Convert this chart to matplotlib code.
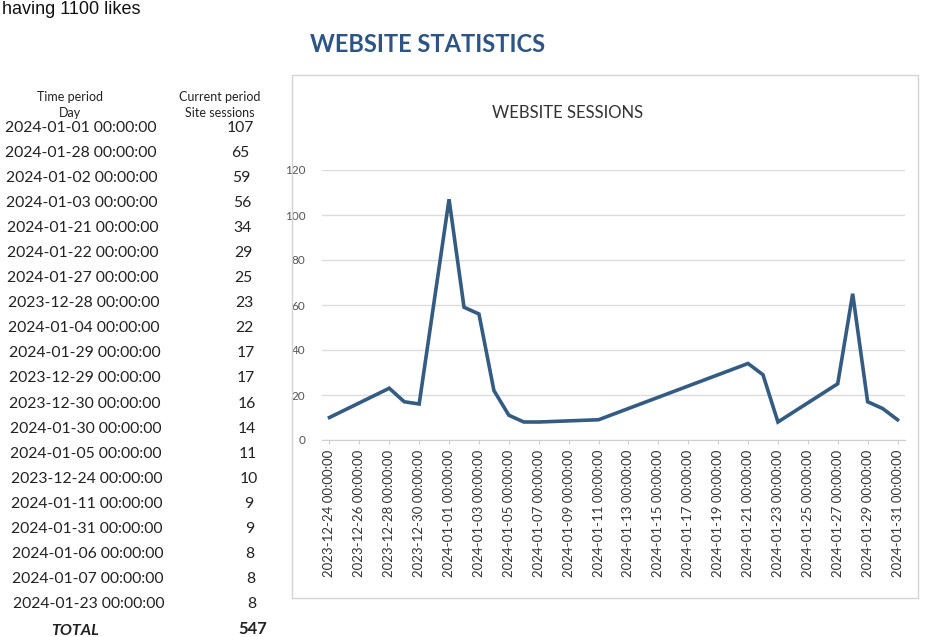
import matplotlib
matplotlib.use("Agg")
import matplotlib.pyplot as plt
from matplotlib.patches import Rectangle
import pandas as pd

# table rows as printed (sorted by sessions)
days = [
    "2024-01-01", "2024-01-28", "2024-01-02", "2024-01-03", "2024-01-21",
    "2024-01-22", "2024-01-27", "2023-12-28", "2024-01-04", "2024-01-29",
    "2023-12-29", "2023-12-30", "2024-01-30", "2024-01-05", "2023-12-24",
    "2024-01-11", "2024-01-31", "2024-01-06", "2024-01-07", "2024-01-23",
]
sessions = [107, 65, 59, 56, 34, 29, 25, 23, 22, 17, 17, 16, 14, 11, 10, 9, 9, 8, 8, 8]
y_ticks = [0, 20, 40, 60, 80, 100, 120]

page_title = "WEBSITE STATISTICS"
chart_title = "WEBSITE SESSIONS"
header_left = ["Time period", "Day"]
header_right = ["Current period", "Site sessions"]

FONT = ["Lato", "DejaVu Sans"]
LINE_COLOR = "#345b82"
TEXT = "#222222"

fig = plt.figure(figsize=(9.34, 6.37), dpi=100)
fig.patch.set_facecolor("white")

W, H = 934.0, 637.0


def fx(px):
    return px / W


def fy(py):
    return 1 - py / H


# caption line at the very top of the photo
fig.text(fx(2), fy(1), "having 1100 likes", fontsize=13, family="Liberation Sans",
         color="#111111", va="top", ha="left")

fig.text(fx(310), fy(45), page_title, fontsize=17, fontweight="bold", family=FONT,
         color="#2c5585", va="center", ha="left")

# table
for j, (l, r) in enumerate(zip(header_left, header_right)):
    y = 97 + j * 16
    fig.text(fx(70), fy(y), l, fontsize=9, family=FONT, ha="center", va="center", color=TEXT)
    fig.text(fx(220), fy(y), r, fontsize=9, family=FONT, ha="center", va="center", color=TEXT)

row_y0, row_step = 128, 25.05
for i, (d, s) in enumerate(zip(days, sessions)):
    y = row_y0 + i * row_step
    fig.text(fx(5 + i * 0.4), fy(y), f"{d} 00:00:00", fontsize=11.3, family=FONT,
             ha="left", va="center", color=TEXT)
    fig.text(fx(240 + i * 0.6), fy(y), str(s), fontsize=11.3, family=FONT,
             ha="center", va="center", color=TEXT)

total_y = row_y0 + len(days) * row_step
fig.text(fx(75), fy(total_y + 2), "TOTAL", fontsize=11.5, family=FONT, fontweight="bold",
         style="italic", ha="center", va="center", color=TEXT)
fig.text(fx(253), fy(total_y), str(sum(sessions)), fontsize=12, family=FONT, fontweight="bold",
         ha="center", va="center", color=TEXT)

# chart frame
fig.patches.append(Rectangle((fx(292), fy(598)), fx(918) - fx(292), fy(75) - fy(598),
                             transform=fig.transFigure, fill=False, edgecolor="#d4d4d4", lw=1))
fig.text(fx(568), fy(113), chart_title, fontsize=12, family=FONT, ha="center", va="center",
         color="#333333")

ax = fig.add_axes([fx(322), fy(440), fx(905) - fx(322), fy(170) - fy(440)])

df = pd.DataFrame({"day": pd.to_datetime(days), "sessions": sessions}).sort_values("day")
ax.plot(df["day"], df["sessions"], color=LINE_COLOR, lw=2.6, solid_joinstyle="miter")

start, end = pd.Timestamp("2023-12-24"), pd.Timestamp("2024-01-31")
ax.set_xlim(start - pd.Timedelta(days=0.5), end + pd.Timedelta(days=0.5))
ax.set_ylim(0, 120)
ax.set_yticks(y_ticks)
ax.grid(axis="y", color="#dcdcdc", lw=1)
ax.set_axisbelow(True)

ticks = pd.date_range(start, end, freq="2D")
ax.set_xticks(ticks)
ax.set_xticklabels([t.strftime("%Y-%m-%d 00:00:00") for t in ticks], rotation=90,
                   fontsize=9.5, family=FONT, color="#333333")
ax.tick_params(axis="x", length=3, color="#cfcfcf", pad=4)
ax.tick_params(axis="y", length=0, labelsize=8.5, labelcolor="#555555", pad=12)
for lbl in ax.get_yticklabels():
    lbl.set_family(FONT)

for side in ["top", "right", "left"]:
    ax.spines[side].set_visible(False)
ax.spines["bottom"].set_color("#cfcfcf")
ax.set_facecolor("none")

fig.savefig("out.png", dpi=100, facecolor="white")
